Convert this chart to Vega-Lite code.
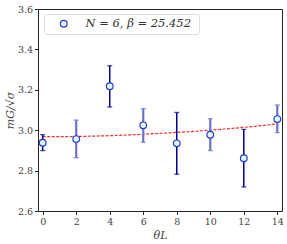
{
  "$schema": "https://vega.github.io/schema/vega-lite/v6.json",
  "autosize": {"type": "none"},
  "width": 244,
  "height": 202,
  "padding": {"left": 38, "top": 9, "right": 5, "bottom": 33},
  "background": "white",
  "config": {
    "view": {"stroke": "#222222", "strokeWidth": 1},
    "axis": {
      "labelFont": "DejaVu Serif",
      "labelFontSize": 9.5,
      "labelColor": "#444444",
      "titleFont": "DejaVu Serif",
      "titleFontStyle": "italic",
      "titleFontWeight": "normal",
      "titleFontSize": 11,
      "titleColor": "#444444",
      "domain": false,
      "grid": false,
      "tickColor": "#222222",
      "tickSize": 3.5
    }
  },
  "datasets": {
    "pts": [
      {"theta": 0, "m": 2.938, "lo": 2.899, "hi": 2.978, "run": "a"},
      {"theta": 2, "m": 2.956, "lo": 2.864, "hi": 3.050, "run": "b"},
      {"theta": 4, "m": 3.218, "lo": 3.115, "hi": 3.319, "run": "a"},
      {"theta": 6, "m": 3.024, "lo": 2.940, "hi": 3.107, "run": "b"},
      {"theta": 8, "m": 2.935, "lo": 2.782, "hi": 3.088, "run": "a"},
      {"theta": 10, "m": 2.978, "lo": 2.899, "hi": 3.057, "run": "b"},
      {"theta": 12, "m": 2.861, "lo": 2.719, "hi": 3.004, "run": "a"},
      {"theta": 14, "m": 3.055, "lo": 2.988, "hi": 3.125, "run": "b"}
    ],
    "fit": [
      {"theta": 0, "m": 2.968},
      {"theta": 2, "m": 2.969},
      {"theta": 4, "m": 2.973},
      {"theta": 6, "m": 2.980},
      {"theta": 8, "m": 2.989},
      {"theta": 10, "m": 3.000},
      {"theta": 12, "m": 3.014},
      {"theta": 14, "m": 3.031}
    ]
  },
  "encoding": {
    "x": {"field": "theta", "type": "quantitative",
          "scale": {"domain": [-0.28, 14.28], "nice": false, "zero": false},
          "axis": {"values": [0, 2, 4, 6, 8, 10, 12, 14], "tickCount": 8, "title": "θL", "titlePadding": 3, "labelOverlap": false, "labelFlush": false}}
  },
  "layer": [
    {
      "data": {"name": "fit"},
      "mark": {"type": "line", "color": "#ff2a2a", "strokeWidth": 1.2, "strokeDash": [3, 1.5], "interpolate": "monotone"},
      "encoding": {
        "y": {"field": "m", "type": "quantitative",
              "scale": {"domain": [2.6, 3.6], "nice": false, "zero": false},
              "axis": {"values": [2.6, 2.8, 3.0, 3.2, 3.4, 3.6], "format": ".1f", "title": "mG/√σ", "titlePadding": 2, "labelOverlap": false, "labelFlush": false}}
      }
    },
    {
      "data": {"name": "pts"},
      "mark": {"type": "rule"},
      "encoding": {
        "y": {"field": "lo", "type": "quantitative"},
        "y2": {"field": "hi"},
        "color": {"field": "run", "type": "nominal", "scale": {"domain": ["a", "b"], "range": ["#00008b", "#6b73c4"]}, "legend": null},
        "strokeWidth": {"field": "run", "type": "nominal", "scale": {"domain": ["a", "b"], "range": [1.5, 2.2]}, "legend": null}
      }
    },
    {
      "data": {"name": "pts"},
      "mark": {"type": "tick", "orient": "horizontal", "size": 5, "thickness": 1.3},
      "encoding": {
        "y": {"field": "lo", "type": "quantitative"},
        "color": {"field": "run", "type": "nominal", "scale": {"domain": ["a", "b"], "range": ["#00008b", "#6b73c4"]}, "legend": null}
      }
    },
    {
      "data": {"name": "pts"},
      "mark": {"type": "tick", "orient": "horizontal", "size": 5, "thickness": 1.3},
      "encoding": {
        "y": {"field": "hi", "type": "quantitative"},
        "color": {"field": "run", "type": "nominal", "scale": {"domain": ["a", "b"], "range": ["#00008b", "#6b73c4"]}, "legend": null}
      }
    },
    {
      "data": {"name": "pts"},
      "transform": [{"calculate": "'N = 6,  β = 25.452'", "as": "lab"}],
      "mark": {"type": "point", "shape": "circle", "filled": true, "size": 45, "stroke": "#2a3cc0", "strokeWidth": 1.2, "opacity": 1},
      "encoding": {
        "y": {"field": "m", "type": "quantitative"},
        "fill": {"field": "lab", "type": "nominal", "scale": {"range": ["#dff8ff"]},
                 "legend": {"title": null, "orient": "none", "legendX": 6, "legendY": 5,
                            "labelFont": "DejaVu Serif", "labelFontStyle": "italic", "labelFontSize": 11.5, "labelColor": "#333333",
                            "symbolStrokeColor": "#2a3cc0", "symbolStrokeWidth": 1.2, "symbolSize": 45, "symbolType": "circle",
                            "strokeColor": "#dddddd", "fillColor": "white", "cornerRadius": 2,
                            "padding": 4, "symbolOffset": 10, "labelOffset": 16}}
      }
    }
  ]
}
